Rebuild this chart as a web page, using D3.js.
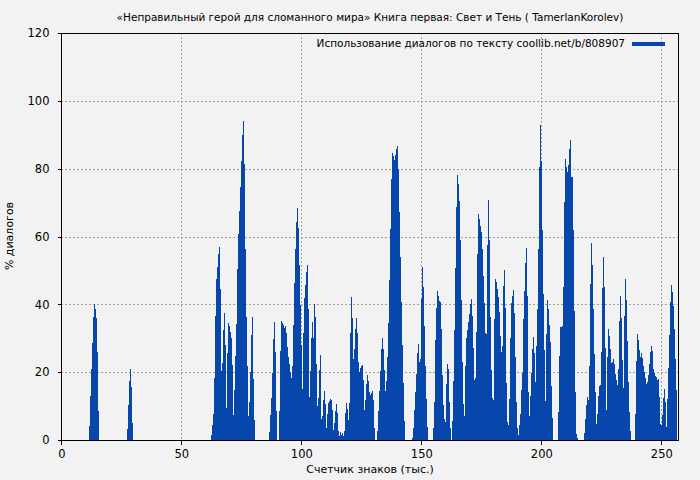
<!DOCTYPE html>
<html>
<head>
<meta charset="utf-8">
<script src="https://cdn.jsdelivr.net/npm/d3@7"></script>
<style>
  body { margin: 0; background: #f2f2f2; }
  text { font-family: "DejaVu Sans", Verdana, sans-serif; fill: #000; }
</style>
</head>
<body>
<div id="chart"></div>
<script>
// Chart data: share of dialogue (%) along the text, one bar per step of characters
var titleText = "«Неправильный герой для сломанного мира» Книга первая: Свет и Тень ( TamerlanKorolev)";
var legendText = "Использование диалогов по тексту coollib.net/b/808907";
var xTicks = [0, 50, 100, 150, 200, 250];
var yTicks = [0, 20, 40, 60, 80, 100, 120];

// first bar position and bar step (thousands of characters)
var xStart = 11.54;
var xStep = 0.4167;

// % of dialogue per step
var pct = [
  4.1, 12.9, 21, 28.6, 36.3, 40, 38.5, 35.9, 25.9, 8.5,
  0, 0, 0, 0, 0, 0, 0, 0, 0, 0, 0, 0, 0, 0, 0, 0, 0, 0, 0, 0, 0, 0, 0, 0, 0, 0, 0, 0,
  3.2, 10.3, 17.4, 20.9, 15.6, 5,
  0, 0, 0, 0, 0, 0, 0, 0, 0, 0, 0, 0, 0, 0, 0, 0, 0, 0, 0, 0, 0, 0, 0, 0, 0, 0,
  0, 0, 0, 0, 0, 0, 0, 0, 0, 0, 0, 0, 0, 0, 0, 0, 0, 0, 0, 0, 0, 0, 0, 0, 0, 0,
  0, 0, 0, 0, 0, 0, 0, 0, 0, 0, 0, 0, 0, 0, 0, 0, 0, 0, 0, 0, 0, 0, 0, 0, 0, 0,
  // 62k
  1.5, 4.4, 7.6, 18.2, 36.5, 47.4, 50.9, 54.7, 56.8, 44.4,
  20.3, 22.6, 32.4, 37.4, 27.9, 9.4, 25.6, 34.4, 33.5, 31.8,
  30, 22, 7.4, 14.7, 24.7, 34.1, 50.3, 60.6, 67.4, 74.7,
  82.4, 90, 94.1, 81.5, 56.2, 36.2, 21.8, 7.1, 11.2, 20,
  30.9, 36.2, 17.9, 5.9,
  0, 0, 0, 0, 0, 0, 0, 0, 0, 0, 0, 0, 0, 0,
  2.4, 7.4, 12.4, 19.7, 29.7, 34.7, 25.9, 8.5, 0, 0,
  8.5, 26.2, 35, 34.4, 33.8, 32.9, 33.5, 31.5, 27.4, 24.4,
  22.4, 20, 18.2, 21.8, 33.8, 46.2, 56.2, 64.4, 68.5, 62.6,
  51.5, 39.7, 27.9, 15, 31.5, 41.8, 45.6, 49.4, 51.5, 38.5,
  12.6, 20.3, 30, 34.7, 30, 40, 36.2, 22.4, 10, 12.4, 20.6,
  // 107k
  25, 6.2, 7.1, 11.8, 14.4, 10.6, 3.5, 7.6, 10.9, 11.5,
  12.1, 11.8, 8.8, 2.9, 5, 8.5, 10.6, 7.9, 2.6, 1.2,
  2.4, 1.5, 2.1, 1.2, 2.6, 7.9, 10.9, 9.1, 5.9, 10.9,
  31.5, 42.1, 35.9, 23.8, 26.8, 32.6, 35.9, 31.5, 22.9, 20,
  21.2, 21.8, 22.1, 17.6, 8.8, 11.8, 16.5, 19.1, 17.4, 14.1,
  13.2, 13.8, 14.4, 11.8, 3.5, 0, 0, 2.6, 8.5, 14.4,
  20.3, 26.8, 30, 26.8, 20.6, 14.4, 17.4, 24.4, 34.4, 47.1,
  62.1, 77.1, 84.7, 83.8, 82.6, 84.1, 85.9, 86.8, 80, 67.1,
  54.1, 40.6, 27.9, 16.8, 5.6, 0, 0, 0, 0, 0,
  0, 0, 0.6, 3.5, 8.8, 14.1, 19.4, 25.6, 28.2, 22.9,
  23.8, 41.5, 50.9, 45, 33.5, 21.8, 12.1, 3.8, 0, 0,
  0, 0, 0, 3.5, 11.2, 29.4, 38.8, 43.8, 42.6, 41,
  // 158k
  40.6, 32.6, 19.1, 10.3, 6.2, 5.3, 16.5, 22.4, 20.9, 11.2,
  3.5, 0, 5.6, 17.4, 32.4, 50.6, 68.8, 78.2, 75.6, 70.6,
  59.1, 41.2, 22.9, 10.6, 7.1, 21.8, 30, 32.4, 34.7, 37.1,
  40, 41.5, 36.5, 27.1, 17.6, 18.2, 31.8, 54.7, 66.5, 65.3,
  63.2, 61.2, 56.2, 48.5, 40.3, 31.5, 31.2, 57.6, 70.9, 59.1,
  36.2, 20.6, 12.4, 11.8, 35.6, 47.6, 46.5, 44.4, 42.1, 37.6,
  30.6, 25.9, 27.6, 45.3, 50, 38.8, 16.8, 5.3, 4.4, 12.1,
  30, 40.3, 42.6, 44.1, 37.4, 24.4, 11.2, 3.5, 1.5, 4.4,
  7.6, 14.7, 19.7, 35.6, 43.8, 52.1, 56.5, 42.4, 14.1, 7.1,
  12.9, 19.7, 26.8, 30.3, 25.6, 17.1, 27.6, 38.5, 56.2, 80.6,
  92.9, 82.4, 61.8, 42.9, 26.5, 11.5, 31.2, 41.2, 38.5, 33.8,
  28.8, 15.9, 6.5, 0, 0, 0, 0, 0, 8.2, 24.7,
  // 208k
  33.2, 33.2, 33.5, 45, 70.3, 82.9, 80.6, 79.1, 81.2, 85.9,
  88.5, 77.4, 77.4, 61.8, 37.9, 14.1, 1.8, 0.6, 0, 0,
  0, 0, 0, 0, 2.1, 6.2, 10.3, 12.6, 11.8, 21.8,
  45.9, 58.2, 51.5, 38.5, 25.3, 14.1, 4.7, 7.6, 12.9, 15.9,
  16.2, 25.9, 44.7, 54.1, 45, 27.1, 8.8, 24.4, 32.6, 30.6,
  26.8, 22.6, 22.9, 23.8, 22.4, 19.4, 17.6, 16.2, 20.9, 35,
  42.4, 35.9, 23.5, 15.3, 36.5, 47.4, 41.2, 29.1, 17.1, 8.2,
  2.6, 0, 0, 0, 0, 7.6, 23.2, 31.2, 29.4, 26.5,
  24.4, 25.6, 24.1, 21.8, 20, 18.2, 16.5, 17.1, 19.1, 22.4,
  25.9, 27.6, 26.2, 20.9, 19.7, 18.8, 18.5, 17.6, 17.9, 12.6,
  4.7, 4.4, 7.4, 12.4, 15, 11.2, 3.8, 12.1, 21.2, 30.9,
  40.6, 45.6, 43.5, 39.4, 32.6, 23.8, 14.7
];

var width = 700, height = 480;
var mLeft = 61.3, mRight = 678.3, mTop = 33, mBottom = 440;
var barColor = "#0747ab";

var svg = d3.select("#chart").append("svg")
    .attr("width", width)
    .attr("height", height);

svg.append("rect")
    .attr("width", width)
    .attr("height", height)
    .attr("fill", "#f2f2f2");

var x = d3.scaleLinear().domain([0, 257.08]).range([mLeft, mRight]);
var y = d3.scaleLinear().domain([0, 120]).range([mBottom, mTop]);

// grid lines
var grid = svg.append("g")
    .attr("stroke", "#a0a0a0")
    .attr("stroke-dasharray", "2,2")
    .attr("shape-rendering", "crispEdges");

grid.selectAll("line.gx")
    .data(xTicks.filter(function(d) { return d > 0; }))
    .enter().append("line")
    .attr("class", "gx")
    .attr("x1", function(d) { return Math.floor(x(d)) + 0.5; })
    .attr("x2", function(d) { return Math.floor(x(d)) + 0.5; })
    .attr("y1", mTop)
    .attr("y2", mBottom);

grid.selectAll("line.gy")
    .data(yTicks.filter(function(d) { return d > 0 && d < 120; }))
    .enter().append("line")
    .attr("class", "gy")
    .attr("x1", mLeft)
    .attr("x2", mRight)
    .attr("y1", function(d) { return Math.round(y(d)) + 0.5; })
    .attr("y2", function(d) { return Math.round(y(d)) + 0.5; });

// bars, 1px each
svg.append("g")
    .attr("shape-rendering", "crispEdges")
    .selectAll("rect")
    .data(pct)
    .enter().append("rect")
    .attr("x", function(d, i) { return Math.round(x(xStart + i * xStep)); })
    .attr("width", 1)
    .attr("y", function(d) { return y(d); })
    .attr("height", function(d) { return mBottom - y(d); })
    .attr("fill", barColor);

// axes
var xAxis = d3.axisBottom(x).tickValues(xTicks).tickSize(4).tickPadding(5);
var yAxis = d3.axisLeft(y).tickValues(yTicks).tickSize(4).tickPadding(8);

var gx = svg.append("g")
    .attr("transform", "translate(0," + (mBottom + 0.5) + ")")
    .call(xAxis);
var gy = svg.append("g")
    .attr("transform", "translate(" + (Math.floor(mLeft) + 0.5) + ",0)")
    .call(yAxis);

[gx, gy].forEach(function(g) {
    g.select(".domain").remove();
    g.selectAll("line").attr("stroke", "#000").attr("shape-rendering", "crispEdges");
    g.selectAll("text").style("font-size", "11.5px").attr("fill", "#000");
});

// frame
svg.append("rect")
    .attr("x", Math.floor(mLeft) + 0.5)
    .attr("y", mTop + 0.5)
    .attr("width", Math.round(mRight - mLeft))
    .attr("height", mBottom - mTop)
    .attr("fill", "none")
    .attr("stroke", "#000")
    .attr("shape-rendering", "crispEdges");

// title
svg.append("text")
    .attr("x", 370)
    .attr("y", 21)
    .attr("text-anchor", "middle")
    .style("font-size", "10.5px")
    .text(titleText);

// legend
svg.append("text")
    .attr("x", 625)
    .attr("y", 47)
    .attr("text-anchor", "end")
    .style("font-size", "10.5px")
    .text(legendText);
svg.append("rect")
    .attr("x", 632)
    .attr("y", 42)
    .attr("width", 33)
    .attr("height", 4)
    .attr("fill", barColor);

// axis titles
svg.append("text")
    .attr("x", 370)
    .attr("y", 473)
    .attr("text-anchor", "middle")
    .style("font-size", "11px")
    .text("Счетчик знаков (тыс.)");

svg.append("text")
    .attr("transform", "translate(13,236) rotate(-90)")
    .attr("text-anchor", "middle")
    .style("font-size", "11px")
    .text("% диалогов");
</script>
</body>
</html>
